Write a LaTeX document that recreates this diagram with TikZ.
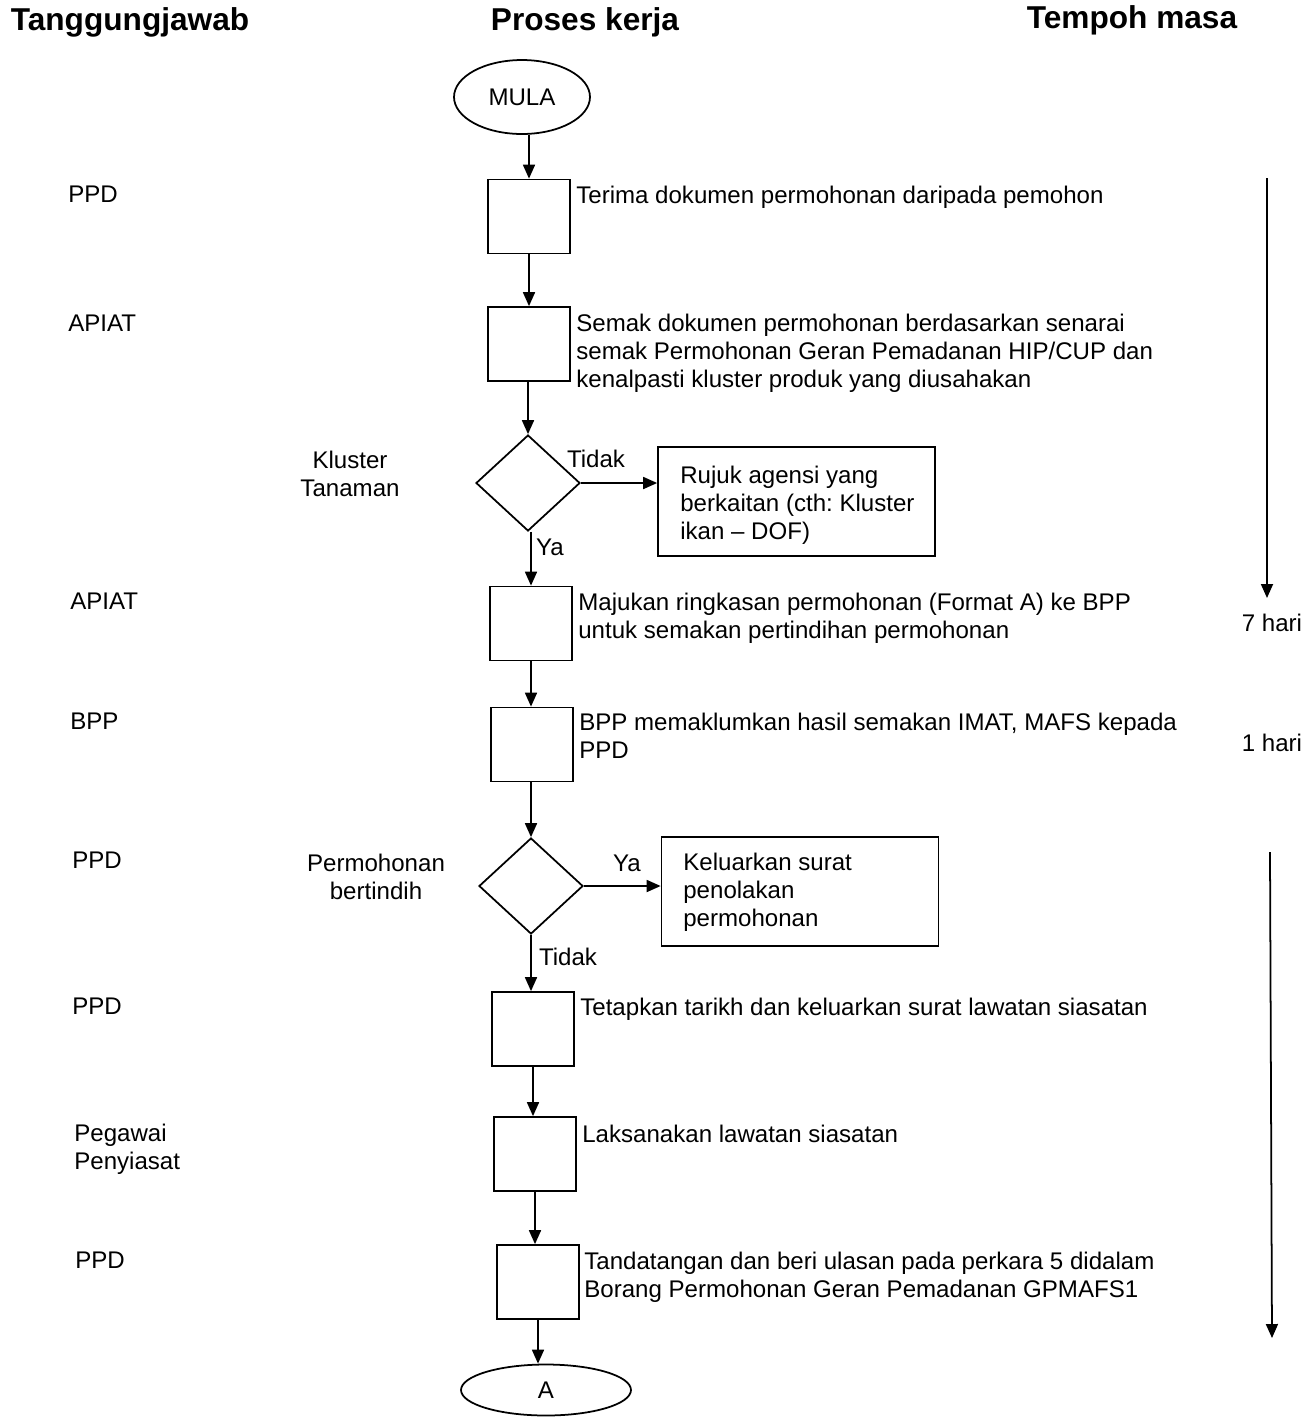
\documentclass[tikz,border=0pt]{standalone}
\usepackage{fontspec}
\setmainfont{Liberation Sans}
\usetikzlibrary{shapes.geometric,arrows.meta}
\frenchspacing
\begin{document}
\begin{tikzpicture}[x=0.02cm,y=-0.02cm,
  every node/.style={font=\fontsize{13.7}{15.9}\selectfont, inner sep=0pt},
  stepbox/.style={draw, line width=1pt, minimum width=1.64cm, minimum height=1.48cm},
  decbox/.style={draw, diamond, line width=1pt, minimum width=2.08cm, minimum height=1.92cm},
  termbox/.style={draw, ellipse, line width=1pt},
  sidebox/.style={draw, line width=1pt, minimum width=5.54cm, minimum height=2.18cm},
  desc/.style={anchor=north west, align=left},
  resp/.style={anchor=west},
  head/.style={font=\fontsize{18}{21}\selectfont\bfseries},
  flow/.style={-{Triangle[length=0.28cm,width=0.24cm]}, line width=1pt},
]
\useasboundingbox (0,0) rectangle (1315,1418);

% headers
\node[head] (h1) at (130,22) {Tanggungjawab};
\node[head] (h2) at (585,22) {Proses kerja};
\node[head] (h3) at (1132,20) {Tempoh masa};

% flow shapes
\node[termbox, minimum width=2.72cm, minimum height=1.48cm] (start) at (522,97) {MULA};
\node[stepbox] (b1) at (529,216.5) {};
\node[stepbox] (b2) at (529,344) {};
\node[decbox] (d1) at (528,483) {};
\node[stepbox] (b3) at (531,623.5) {};
\node[stepbox] (b4) at (532,744.5) {};
\node[decbox] (d2) at (531,886) {};
\node[stepbox] (b5) at (533,1029) {};
\node[stepbox] (b6) at (535,1154) {};
\node[stepbox] (b7) at (538,1282) {};
\node[termbox, minimum width=3.4cm, minimum height=1.02cm] (end) at (546,1390) {A};

\node[sidebox] (r1) at (796.5,501.5) {};
\node[desc] (r1t) at (680,466) {Rujuk agensi yang\\berkaitan (cth: Kluster\\ikan -- DOF)};
\node[sidebox] (r2) at (800,891.5) {};
\node[desc] (r2t) at (683,853) {Keluarkan surat\\penolakan\\permohonan};

% step descriptions
\node[desc] (t1) at (576,186) {Terima dokumen permohonan daripada pemohon};
\node[desc] (t2) at (576,314) {Semak dokumen permohonan berdasarkan senarai\\semak Permohonan Geran Pemadanan HIP/CUP dan\\kenalpasti kluster produk yang diusahakan};
\node[desc] (t3) at (578,593) {Majukan ringkasan permohonan (Format A) ke BPP\\untuk semakan pertindihan permohonan};
\node[desc] (t4) at (579,713) {BPP memaklumkan hasil semakan IMAT, MAFS kepada\\PPD};
\node[desc] (t5) at (580,998) {Tetapkan tarikh dan keluarkan surat lawatan siasatan};
\node[desc] (t6) at (582,1125) {Laksanakan lawatan siasatan};
\node[desc] (t7) at (584,1252) {Tandatangan dan beri ulasan pada perkara 5 didalam\\Borang Permohonan Geran Pemadanan GPMAFS1};

% responsibilities
\node[resp] (p1) at (68,194) {PPD};
\node[resp] (p2) at (68,323) {APIAT};
\node[align=center, anchor=north] (p3) at (350,451) {Kluster\\Tanaman};
\node[resp] (p4) at (70,601) {APIAT};
\node[resp] (p5) at (70,721) {BPP};
\node[resp] (p6) at (72,860) {PPD};
\node[align=center, anchor=north] (p7) at (376,854) {Permohonan\\bertindih};
\node[resp] (p8) at (72,1006) {PPD};
\node[align=left, anchor=north west] (p9) at (74,1124) {Pegawai\\Penyiasat};
\node[resp] (p10) at (75,1260) {PPD};

% connectors
\draw[flow] (start.south -| b1.north) -- (b1.north);
\draw[flow] (b1.south) -- (b1.south |- b2.north);
\draw[flow] (b2.south -| d1.north) -- (d1.north);
\draw[flow] (d1.south -| b3.north) -- (b3.north);
\draw[flow] (d1.east) -- (d1.east -| r1.west);
\draw[flow] (b3.south) -- (b3.south |- b4.north);
\draw[flow] (b4.south -| d2.north) -- (d2.north);
\draw[flow] (d2.east) -- (d2.east -| r2.west);
\draw[flow] (d2.south) -- (d2.south |- b5.north);
\draw[flow] (b5.south) -- (b5.south |- b6.north);
\draw[flow] (b6.south) -- (b6.south |- b7.north);
\draw[flow] (b7.south) -- (b7.south |- end.north);

% connector labels
\node (l1) at (596,459) {Tidak};
\node (l2) at (550,547) {Ya};
\node (l3) at (627,863) {Ya};
\node (l4) at (568,957) {Tidak};

% time spans
\coordinate (s1a) at (1267,178);
\coordinate (s1b) at (1267,598);
\draw[flow] (s1a) -- (s1b);
\coordinate (s2a) at (1270,852);
\coordinate (s2b) at (1272,1338);
\draw[flow] (s2a) -- (s2b);
\node (m1) at (1272,623) {7 hari};
\node (m2) at (1272,743) {1 hari};
\end{tikzpicture}
\end{document}
